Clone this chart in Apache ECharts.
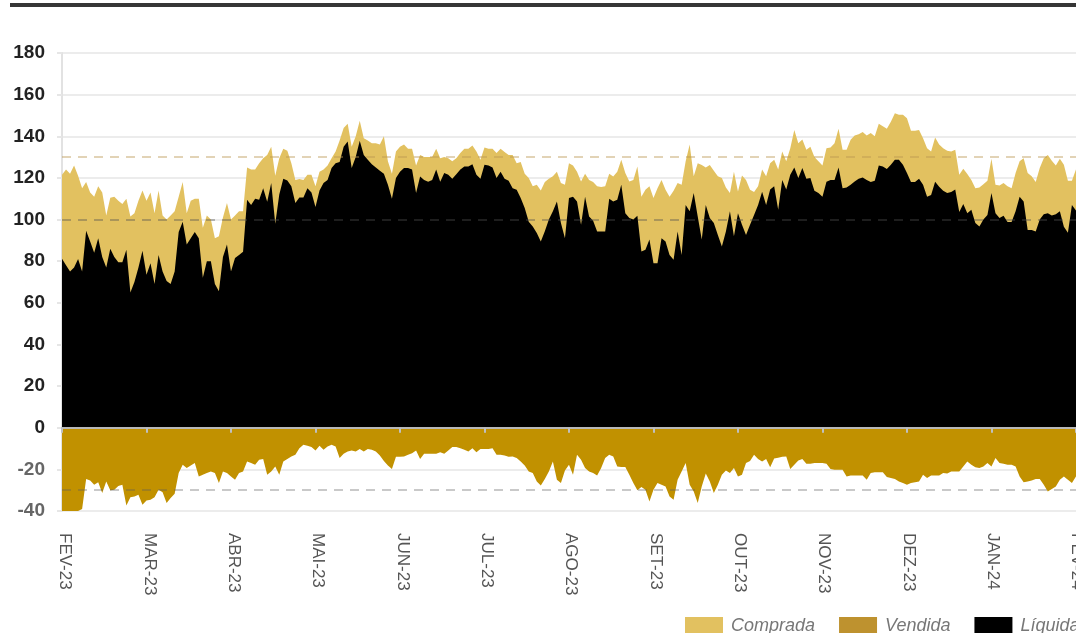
<!DOCTYPE html>
<html>
<head>
<meta charset="utf-8">
<script src="https://cdn.jsdelivr.net/npm/echarts@6/dist/echarts.min.js"></script>
<style>
html,body{margin:0;padding:0;overflow:hidden;background:#fff;width:1076px;height:633px;}
#chart{width:1140px;height:633px;}
</style>
</head>
<body>
<div id="chart"></div>
<script>
// Month tick labels (one every 21 trading days)
const monthLabels = ['FEV-23','MAR-23','ABR-23','MAI-23','JUN-23','JUL-23','AGO-23','SET-23','OUT-23','NOV-23','DEZ-23','JAN-24','FEV-24'];
const pointsPerMonth = 21;

// Posição comprada (long)
const comprada = [
121.5,124,122,126,121,115,118,113,111,116,113,102,110.5,111,109,107.5,110,101.5,103,109,114,109,113,103,114,102,100,102,104,111,118,103,109,110,110,96,102,100,91,92,101,108,100,102,104,104,125,124,124,127,129.5,131,135,121,129.5,134,133,127,119,119.5,119,121.5,121.5,116,
123,124,126,129.5,132.7,138,144,146,135,140,147.4,139,138,136.7,136.7,136,140,128,122,132.7,135,136,134,134,126,131,130,130,130,134,129.5,130,129.5,128,129.5,132,134,134,135.6,132.7,128.7,134.6,134,134,132,134,132.4,131,131,127,127.6,122,120,116,116.7,114,118,119.6,120.8,123,117.6,116.7,127,126,
123,118.3,122,119,118,116,115.6,116,122,120.7,123,128.7,122.3,118.3,119,125.5,111,114.3,116,110.4,115,119,114.3,111,113.8,117.5,116.7,128,136,120.8,127,126.2,125,126.2,123.4,120.8,120,115.4,112.7,123,113.5,121.2,119,114.3,113.2,116,124,120.8,127,128.7,124,132.7,128,134.3,143,136.7,138.4,133.5,135,130,128,126,
134.3,134.6,136.7,143.6,133.5,133.5,138.3,140.4,141,142,140.4,141.6,140,146,144.8,143.6,147,151,150.3,150.3,148.7,142.6,142.6,143,139,134.3,132.7,139.4,136,134.3,133,132.7,133.5,121.5,124.4,121.9,119,115,115.4,117,118.6,129.2,116.7,116.3,117.5,116,115,122.3,128,129.5,122.3,120.8,118,124.7,129.5,131,128.2,126,129.2,126.3,118.6,118.6,124,122.3,118
];

// Posição vendida (short)
const vendida = [
-40,-40,-40,-40,-40,-39,-24.6,-25.3,-27.4,-26.2,
-31.4,-25.8,-30,-29.8,-28,-27.4,-37.4,-33.4,-33,-32.2,
-37,-35,-34.6,-33.4,-29.8,-31,-36.2,-33.8,-31.7,-21.8,
-17.8,-19.4,-18.2,-17,-23.4,-22.6,-21.8,-21,-21.8,-26.6,
-21,-21.8,-23.4,-25,-21.8,-21,-16.2,-17,-17.8,-15.4,
-15,-22.6,-21,-18.6,-22.6,-16.2,-15,-13.8,-13,-9.8,
-8.2,-8.6,-9.3,-10.9,-8.6,-10.6,-9,-8.2,-9,-14.6,
-12.5,-11.4,-10.9,-11.4,-10.2,-11.4,-10.2,-10.6,-11.4,-13.4,
-16,-18.2,-19.8,-14,-14,-13.8,-13,-12.2,-10.9,-15,
-12.5,-12.5,-12.5,-12.5,-11.8,-12.5,-10.9,-9.3,-9.3,-9.8,
-10.6,-11.4,-9.8,-11.8,-10.2,-10.2,-10.2,-9.8,-13,-13,
-13.4,-14,-13.8,-14.6,-16.2,-18.2,-21,-21.8,-25.8,-27.8,
-24.6,-21,-16.2,-25,-26.6,-20.5,-17.8,-22.6,-13,-15.4,
-19.4,-21,-21.8,-23,-19.4,-14.6,-13,-13.8,-18.6,-18.9,
-18.9,-22.6,-26.6,-30,-28.5,-29.8,-35.4,-29.8,-26.6,-27.4,
-28.2,-33,-34.6,-25,-21,-17,-27.4,-30.6,-36.2,-28.2,
-22,-25.8,-31.4,-27.4,-22.6,-20.5,-21.8,-19.4,-23.4,-22.6,
-17,-16,-13,-15,-16.2,-15,-19,-14.8,-14.4,-14,
-13.8,-19.8,-17.8,-15.7,-15,-17.3,-17.3,-17,-17,-17,
-17.3,-19.8,-20.2,-20.2,-20.2,-23.4,-23,-23,-23,-23,
-25,-21.8,-21.4,-21.4,-21.4,-23.7,-24.2,-24.6,-25.8,-26.6,
-27.4,-26.6,-26.2,-25.8,-22.6,-24.2,-23,-23,-23,-21.8,
-22,-21,-21,-21,-18.6,-16.2,-17.8,-19,-19.4,-18.6,
-17,-18.6,-14.6,-17,-17.3,-17.8,-17.8,-18.6,-23.4,-26.2,
-25.8,-25.3,-24.6,-24.6,-27.4,-30.6,-29.4,-28.2,-25,-23.4,
-25,-26.6,-23.4,-18.6,-20
];

// Posição líquida (net)
const liquida = [
81.2,78,75,77,81,75,94.6,89.5,84,91,82,77,86,82,79.5,79.5,85.5,65,70,77,85,73.5,79,69,83,75,70.5,69,75,94,99,88,91,94,91,72,80,80,69,65.5,82,88,75,81.5,83,84.5,109.5,107,110,109.5,115,108.5,117.5,98,112,119.6,118.7,116,108,110.6,110.6,115,113,106,
114,117.5,119,124.7,127,127.6,135,137.5,124.7,130,137.8,131,128.7,126.6,125,123.4,122,116.7,110,120,123,124.7,124.7,124,112.7,120.7,119,118.2,119,124,118.2,122.3,121.5,119.6,121.8,124,125.5,125.5,126.6,121.5,119.6,126.3,126,125,120,123,119.6,118.6,115,114.3,110.3,105.5,99,96.7,93.5,89.5,94.4,100,104,108.7,98.3,91,110.3,111,
108.7,97.5,111,101.5,99.4,94.3,94.3,94.3,110,108.7,109.5,116.7,103,100.7,100,101.8,84.7,85.5,90.4,79,79,91,89.4,83,80.7,94.3,83,107,104,112.7,101.5,90.4,107,100.7,98.3,92.6,87,94.3,104,92,103,97.5,92.6,97.5,102.2,107,113.3,107,114.4,116,104.7,119,114.4,121.5,125,120,124.7,119.6,120,113.8,112.7,111,118.2,
119,119,125,115,115.4,116.7,118.3,119.6,120.2,119,118,118.6,126,125.5,124.3,126.3,128.7,128.7,126.3,122.3,118,118,119.6,116.7,111,111.8,118.2,115.7,113.8,112.7,113.2,114.4,103.6,107.5,103,104.7,98.3,96.7,100,102.2,112.7,103,100.7,101.8,98.8,98.8,104,111,108.7,95,95,94.3,100,102.6,103,102,102.6,104,96.5,93.6,107,104.3,100,97
];

// Reference levels
const refLevels = [130, 100, -30];
const yTicks = {min: -40, max: 180, interval: 20};

const categories = comprada.map((_, i) => {
  const m = monthLabels[Math.floor(i / pointsPerMonth)] || monthLabels[monthLabels.length - 1];
  return m + ' ' + (i % pointsPerMonth + 1);
});

const chart = echarts.init(document.getElementById('chart'), null, {renderer: 'canvas'});
const sans = "'Liberation Sans', Arial, sans-serif";

const option = {
  animation: false,
  backgroundColor: '#fff',
  graphic: [{
    type: 'rect', left: 10, top: 3, shape: {width: 1200, height: 4},
    style: {fill: '#363636'}, z: 100
  }],
  grid: [
    {left: 62, top: 53, bottom: 122, width: 1022, containLabel: false},
    {left: 65, top: 53, bottom: 122, width: 1020, containLabel: false}
  ],
  legend: {
    left: 680, top: 612,
    itemWidth: 38, itemHeight: 18, itemGap: 24,
    icon: 'rect',
    textStyle: {fontFamily: sans, fontStyle: 'italic', fontSize: 18, color: '#777', padding: [0, 0, 0, 3]},
    data: ['Comprada', 'Vendida', 'Líquida']
  },
  xAxis: [{
    type: 'category', data: categories, boundaryGap: false, gridIndex: 0,
    axisLine: {onZero: true, lineStyle: {color: '#b8b8b8', width: 2}},
    axisTick: {show: true, interval: pointsPerMonth - 1, length: 5, lineStyle: {color: '#c0c0c0', width: 2}},
    axisLabel: {show: false},
    splitLine: {show: false},
    z: 10
  }, {
    type: 'category', data: categories, boundaryGap: false, gridIndex: 1, position: 'bottom',
    axisLine: {show: false, onZero: false},
    axisTick: {show: false},
    axisLabel: {
      show: true, interval: pointsPerMonth - 1, rotate: -90, margin: 22,
      fontFamily: sans, fontSize: 17, color: '#555',
      formatter: v => v.split(' ')[0]
    },
    splitLine: {show: false}
  }],
  yAxis: [{
    type: 'value', gridIndex: 0, min: yTicks.min, max: yTicks.max, interval: yTicks.interval,
    axisLine: {show: true, lineStyle: {color: '#e2e2e2', width: 2}},
    axisTick: {show: true, length: 5, lineStyle: {color: '#e6e6e6', width: 2}},
    axisLabel: {
      margin: 17, fontFamily: sans, fontSize: 19, fontWeight: 'bold',
      formatter: v => v < 0 ? '{n|' + v + '}' : '{p|' + v + '}',
      rich: {
        p: {color: '#222', fontFamily: sans, fontSize: 19, fontWeight: 'bold'},
        n: {color: '#666', fontFamily: sans, fontSize: 19, fontWeight: 'bold'}
      }
    },
    splitLine: {show: true, lineStyle: {color: '#ececec', width: 2}}
  }, {
    type: 'value', gridIndex: 1, min: yTicks.min, max: yTicks.max, interval: yTicks.interval,
    show: false
  }],
  series: [{
    name: 'Comprada', type: 'line', data: comprada, xAxisIndex: 0, yAxisIndex: 0,
    symbol: 'none', lineStyle: {width: 0}, itemStyle: {color: '#E2C160'},
    areaStyle: {color: '#E2C160', opacity: 1}, z: 2
  }, {
    name: 'Vendida', type: 'line', data: vendida, xAxisIndex: 0, yAxisIndex: 0,
    symbol: 'none', lineStyle: {width: 0}, itemStyle: {color: '#BE922F'},
    areaStyle: {color: '#C19100', opacity: 1}, z: 2
  }, {
    name: 'Líquida', type: 'line', data: liquida, xAxisIndex: 0, yAxisIndex: 0,
    symbol: 'none', lineStyle: {width: 0}, itemStyle: {color: '#000'},
    areaStyle: {color: '#000', opacity: 1}, z: 3,
    markLine: {
      silent: true, symbol: 'none', label: {show: false},
      data: [
        {yAxis: refLevels[0], lineStyle: {color: 'rgba(185,150,80,0.42)', type: [9, 7], width: 2}},
        {yAxis: refLevels[1], lineStyle: {color: 'rgba(80,80,80,0.38)', type: [9, 7], width: 2}},
        {yAxis: refLevels[2], lineStyle: {color: 'rgba(90,90,90,0.33)', type: [9, 7], width: 2}}
      ]
    }
  }]
};
chart.setOption(option);
</script>
</body>
</html>
